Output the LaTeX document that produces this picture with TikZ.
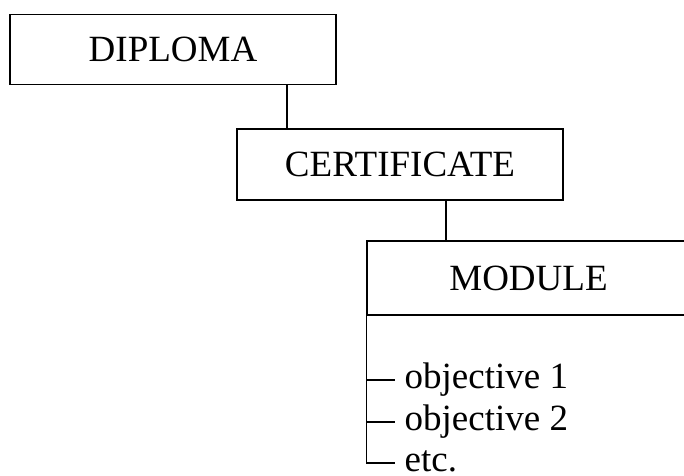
\documentclass[tikz,border=0pt]{standalone}
\usepackage{fontspec}
\setmainfont{Liberation Serif}
\begin{document}
\begin{tikzpicture}[x=1pt,y=-1pt,line width=1.3pt,
    every node/.style={font=\fontsize{37}{40}\selectfont},
    level/.style={draw,rectangle,minimum width=326pt,minimum height=70pt,inner sep=0pt},
    item/.style={anchor=base west,inner sep=0pt,xshift=9pt,yshift=-8pt}]
            \useasboundingbox (0,0) rectangle (684,475);
            \clip (0,0) rectangle (684,475);
            \node [level] (diploma) at (173,49.5) {DIPLOMA};
            \node [level,minimum height=71pt] (certificate) at (400,164.5) {CERTIFICATE};
            \node [level,minimum width=323pt,minimum height=74pt] (module) at (528.5,278) {MODULE};
            \coordinate (tick1) at (395,380);
            \coordinate (tick2) at (395,422);
            \coordinate (tick3) at (395,463);
            \node [item] (obj1) at (tick1) {objective 1};
            \node [item] (obj2) at (tick2) {objective 2};
            \node [item] (etc) at (tick3) {etc.};
            \draw ([xshift=114pt]diploma.south) -- ([xshift=114pt]diploma.south |- certificate.north);
            \draw ([xshift=46pt]certificate.south) -- ([xshift=46pt]certificate.south |- module.north);
            \draw (module.south west) -- (module.south west |- tick3) -- (tick3);
            \draw (module.south west |- tick1) -- (tick1);
            \draw (module.south west |- tick2) -- (tick2);
            \end{tikzpicture}
\end{document}
